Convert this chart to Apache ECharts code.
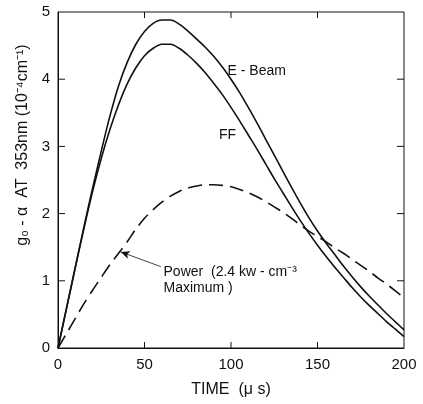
<!DOCTYPE html>
<html>
<head>
<meta charset="utf-8">
<script src="https://cdn.jsdelivr.net/npm/echarts@6/dist/echarts.min.js"></script>
<style>
html,body{margin:0;padding:0;background:#fff;}
#c{width:423px;height:404px;}
</style>
</head>
<body>
<div id="c"></div>
<script>
// ---- data ----
var times = [0,5,10,15,20,25,30,35,40,45,50,55,60,65,70,75,80,85,90,95,100,105,110,115,120,125,130,135,140,145,150,155,160,165,170,175,180,185,190,195,200];
var eBeam = [0,0.6,1.2,1.8,2.38,2.93,3.45,3.9,4.25,4.52,4.71,4.83,4.88,4.88,4.82,4.72,4.6,4.48,4.34,4.18,4.0,3.8,3.58,3.35,3.11,2.87,2.63,2.39,2.16,1.94,1.74,1.56,1.39,1.22,1.06,0.91,0.77,0.64,0.51,0.39,0.27];
var ff    = [0,0.6,1.2,1.78,2.33,2.82,3.25,3.62,3.93,4.17,4.35,4.46,4.52,4.52,4.46,4.36,4.24,4.1,3.94,3.77,3.58,3.38,3.17,2.96,2.74,2.52,2.31,2.1,1.9,1.71,1.53,1.36,1.2,1.05,0.9,0.76,0.63,0.51,0.39,0.28,0.17];
var power = [0,0.22,0.44,0.66,0.86,1.05,1.24,1.41,1.58,1.77,1.93,2.06,2.17,2.26,2.33,2.38,2.41,2.43,2.43,2.42,2.4,2.36,2.31,2.25,2.18,2.1,2.02,1.93,1.83,1.74,1.66,1.58,1.49,1.41,1.32,1.23,1.14,1.04,0.95,0.85,0.75];
var xTicks = [0,50,100,150,200];
var yTicks = [0,1,2,3,4,5];
var xName = 'TIME  (μ s)';
var yName = 'g₀ - α  AT  353nm (10⁻⁴cm⁻¹)';
// annotations: [text, x(data), y(data)]
var labelEBeam = ['E - Beam', 98, 4.12];
var labelFF = ['FF', 93, 3.17];
var powerText1 = ['Power  (2.4 kw - cm⁻³', 61, 1.13];
var powerText2 = ['Maximum )', 61, 0.89];
var arrowFrom = [59.5, 1.21];
var arrowTo = [36.3, 1.43];

function pairs(v){ return times.map(function(t,i){ return [t, v[i]]; }); }

var FONT = 'Liberation Sans';
var INK = '#111';

var chart = echarts.init(document.getElementById('c'), null, {renderer:'canvas'});

var option = {
  backgroundColor:'#fff',
  animation:false,
  grid:{left:58, right:19, top:12, bottom:56, show:true, borderColor:INK, borderWidth:1, backgroundColor:'transparent'},
  xAxis:{type:'value', min:xTicks[0], max:xTicks[xTicks.length-1], interval:50, position:'bottom',
    axisLine:{show:true, lineStyle:{color:INK, width:1}}, axisTick:{show:false}, splitLine:{show:false},
    axisLabel:{show:true, fontFamily:FONT, fontSize:15, color:INK, margin:9},
    name:xName, nameLocation:'middle', nameGap:34,
    nameTextStyle:{fontFamily:FONT, fontSize:16, color:INK}},
  yAxis:{type:'value', min:yTicks[0], max:yTicks[yTicks.length-1], interval:1, position:'left',
    axisLine:{show:true, lineStyle:{color:INK, width:1}}, axisTick:{show:false}, splitLine:{show:false},
    axisLabel:{show:true, fontFamily:FONT, fontSize:15, color:INK, margin:8},
    name:yName, nameLocation:'middle', nameGap:24,
    nameTextStyle:{fontFamily:FONT, fontSize:16, color:INK, padding:[0,0,0,70]}},
  series:[
    {name:'E-Beam', type:'line', data:pairs(eBeam), showSymbol:false, smooth:0.3,
     lineStyle:{color:INK, width:1.6}, z:3},
    {name:'FF', type:'line', data:pairs(ff), showSymbol:false, smooth:0.3,
     lineStyle:{color:INK, width:1.6}, z:3},
    {name:'Power', type:'line', data:pairs(power), showSymbol:false, smooth:0.3,
     lineStyle:{color:INK, width:1.6, type:[14,7]}, z:3,
     markLine:{silent:true, symbol:['none','arrow'], symbolSize:[6,9],
       label:{show:false},
       lineStyle:{color:INK, width:0.8, type:'solid'},
       data:[[{coord:arrowFrom},{coord:arrowTo}]]}
    }
  ]
};
chart.setOption(option);

function px(x, y){ return chart.convertToPixel({gridIndex:0}, [x, y]); }
function txt(a){
  var p = px(a[1], a[2]);
  return {type:'text', x:p[0], y:p[1],
    style:{text:a[0], fill:INK, font:'14px "Liberation Sans"', textAlign:'left', textVerticalAlign:'middle'}};
}
function seg(x1,y1,x2,y2){
  return {type:'line', silent:true, shape:{x1:x1,y1:y1,x2:x2,y2:y2}, style:{stroke:INK, lineWidth:1}};
}
var g = [txt(labelEBeam), txt(labelFF), txt(powerText1), txt(powerText2)];
// inward-pointing ticks on all four sides of the frame
var x0 = xTicks[0], x1 = xTicks[xTicks.length-1], y0 = yTicks[0], y1 = yTicks[yTicks.length-1];
xTicks.slice(1, -1).forEach(function(t){
  var b = px(t, y0), tp = px(t, y1);
  g.push(seg(b[0], b[1], b[0], b[1]-6));
  g.push(seg(tp[0], tp[1], tp[0], tp[1]+6));
});
yTicks.slice(1, -1).forEach(function(v){
  var l = px(x0, v), r = px(x1, v);
  g.push(seg(l[0], l[1], l[0]+7, l[1]));
  g.push(seg(r[0], r[1], r[0]-7, r[1]));
});
chart.setOption({graphic:g});
</script>
</body>
</html>
